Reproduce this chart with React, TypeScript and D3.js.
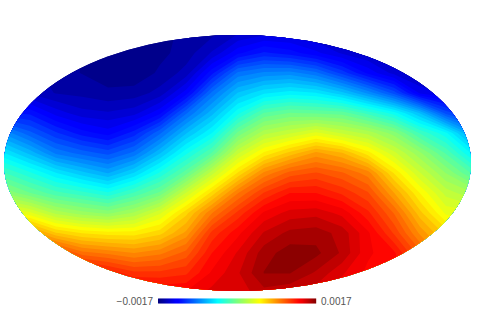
import React from "react";
import * as d3 from "d3";

// map values in units of 0.0017 on a pixel grid
const gridX = [4, 30, 56, 82, 108, 134, 160, 186, 212, 238, 264, 290, 316, 342, 368, 394, 420, 446, 472];
const gridY = [33, 53, 73, 93, 113, 133, 153, 173, 193, 213, 233, 253, 273, 293];
const columns = [
  [-0.88, -0.88, -0.88, -0.85, -0.7, -0.47, -0.29, -0.12, 0.04, 0.27, 0.5, 0.8, 0.9, 0.95],
  [-0.9, -0.9, -0.9, -0.88, -0.72, -0.57, -0.39, -0.2, -0.04, 0.22, 0.5, 0.8, 0.9, 0.95],
  [-0.92, -0.93, -0.94, -0.92, -0.81, -0.66, -0.51, -0.29, -0.11, 0.11, 0.38, 0.67, 0.85, 0.95],
  [-0.95, -0.96, -0.96, -0.93, -0.86, -0.73, -0.56, -0.36, -0.15, 0.06, 0.33, 0.56, 0.8, 0.9],
  [-0.98, -0.98, -0.98, -0.95, -0.87, -0.77, -0.6, -0.42, -0.2, 0.03, 0.31, 0.53, 0.74, 0.85],
  [-0.98, -0.99, -0.99, -0.94, -0.85, -0.69, -0.53, -0.33, -0.12, 0.09, 0.31, 0.5, 0.68, 0.82],
  [-0.97, -0.97, -0.95, -0.9, -0.76, -0.55, -0.38, -0.2, -0.03, 0.2, 0.36, 0.53, 0.68, 0.8],
  [-0.95, -0.94, -0.9, -0.77, -0.55, -0.38, -0.22, -0.06, 0.17, 0.36, 0.47, 0.6, 0.7, 0.8],
  [-0.93, -0.87, -0.72, -0.53, -0.39, -0.25, -0.08, 0.15, 0.35, 0.54, 0.68, 0.75, 0.8, 0.85],
  [-0.88, -0.76, -0.53, -0.37, -0.22, -0.03, 0.16, 0.34, 0.54, 0.68, 0.78, 0.84, 0.87, 0.85],
  [-0.85, -0.7, -0.49, -0.3, -0.08, 0.11, 0.3, 0.51, 0.67, 0.8, 0.88, 0.94, 0.96, 0.9],
  [-0.85, -0.73, -0.48, -0.27, -0.04, 0.16, 0.39, 0.6, 0.75, 0.85, 0.93, 0.98, 0.96, 0.88],
  [-0.88, -0.78, -0.53, -0.29, -0.05, 0.22, 0.47, 0.63, 0.75, 0.86, 0.94, 0.97, 0.91, 0.85],
  [-0.9, -0.84, -0.64, -0.36, -0.06, 0.16, 0.42, 0.59, 0.7, 0.82, 0.9, 0.91, 0.84, 0.8],
  [-0.92, -0.88, -0.76, -0.47, -0.14, 0.11, 0.31, 0.52, 0.63, 0.72, 0.8, 0.8, 0.78, 0.75],
  [-0.94, -0.92, -0.85, -0.6, -0.23, 0.02, 0.18, 0.33, 0.46, 0.58, 0.66, 0.76, 0.78, 0.75],
  [-0.95, -0.93, -0.9, -0.8, -0.38, -0.13, 0.05, 0.17, 0.29, 0.39, 0.49, 0.6, 0.65, 0.65],
  [-0.95, -0.93, -0.9, -0.84, -0.6, -0.24, -0.09, 0.04, 0.15, 0.24, 0.36, 0.45, 0.5, 0.5],
  [-0.95, -0.93, -0.9, -0.85, -0.68, -0.45, -0.26, -0.09, 0.09, 0.22, 0.3, 0.38, 0.42, 0.42],
];
const barLabels = ["\u22120.0017", "0.0017"];
const jetStops = [0, 0.11, 0.125, 0.375, 0.5, 0.64, 0.75, 0.89, 0.91, 1];
const jetColors = ["#00007f", "#0000ff", "#0000ff", "#00ffff", "#7dff7a", "#ffff00", "#ff8c00", "#ff0000", "#f00000", "#7f0000"];
const bandCount = 48;

const width = 477;
const height = 327;

const jet = d3.scaleLinear<string>().domain(jetStops).range(jetColors).clamp(true);
const toT = d3.scaleLinear().domain([-1, 1]).range([0, 1]);

export default function App() {
  const nx = gridX.length;
  const ny = gridY.length;
  const values: number[] = [];
  for (let j = 0; j < ny; j++) {
    for (let i = 0; i < nx; i++) values.push(columns[i][j]);
  }
  const thresholds = d3.range(bandCount).map((k) => -1 + (2 * k) / bandCount);
  const bands = d3.contours().size([nx, ny]).thresholds(thresholds)(values);

  // contour coordinates are in grid cells, centres at +0.5
  const x = d3.scaleLinear().domain([0.5, nx - 0.5]).range([gridX[0], gridX[nx - 1]]);
  const y = d3.scaleLinear().domain([0.5, ny - 0.5]).range([gridY[0], gridY[ny - 1]]);
  const path = d3.geoPath(
    d3.geoTransform({
      point(px, py) {
        this.stream.point(x(px), y(py));
      },
    })
  );

  const bar = d3.scaleLinear().domain([0, 1]).range([158, 316]);
  const barSteps = d3.range(158).map((k) => k / 158);

  return (
    <svg
      width={width}
      height={height}
      style={{ position: "absolute", left: 0, top: 0, background: "#fff" }}
    >
      <defs>
        <clipPath id="moll">
          <ellipse cx={237.5} cy={163} rx={233.5} ry={128} />
        </clipPath>
      </defs>
      <g clipPath="url(#moll)">
        <rect x={0} y={0} width={width} height={height} fill={jet(0)} />
        {bands.map((b, k) => (
          <path key={k} d={path(b) || ""} fill={jet(toT(b.value + 1 / bandCount))} />
        ))}
      </g>
      {barSteps.map((t, k) => (
        <rect key={k} x={bar(t)} y={298.5} width={1.2} height={5} fill={jet(t)} />
      ))}
      <g fontFamily="'Liberation Sans'" fontSize={10} fill="#555">
        <text x={153} y={304.5} textAnchor="end">{barLabels[0]}</text>
        <text x={321} y={304.5}>{barLabels[1]}</text>
      </g>
    </svg>
  );
}
